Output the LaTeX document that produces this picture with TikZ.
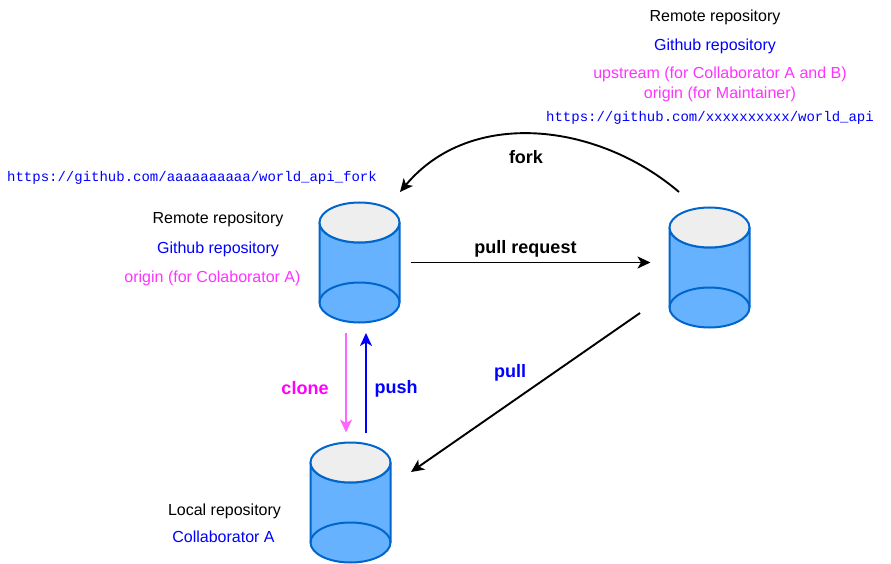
\documentclass[tikz,border=0pt]{standalone}
\usepackage{fontspec}
\setmainfont{Liberation Sans}
\setmonofont{Liberation Mono}
\usetikzlibrary{arrows.meta}
\definecolor{cylfill}{HTML}{66B2FF}
\definecolor{cylline}{HTML}{0066CC}
\definecolor{cyltop}{HTML}{EEEEEE}
\definecolor{softpink}{HTML}{FF33FF}
\definecolor{clonepink}{HTML}{FF66FF}
\definecolor{clonetext}{HTML}{FF00FF}
\tikzset{
  txt/.style={inner sep=0pt,font=\fontsize{16}{18}\selectfont,anchor=center},
  urltxt/.style={inner sep=0pt,font=\fontsize{14}{16}\selectfont\ttfamily,text=blue,anchor=center},
  boldtxt/.style={inner sep=0pt,font=\fontsize{18}{20}\selectfont\bfseries,anchor=center},
  conn/.style={line width=1.9pt,-{Stealth[length=13pt,width=12pt,inset=3.5pt]}},
  cylbody/.style={draw=cylline,fill=cylfill,line width=2pt},
  cylcap/.style={draw=cylline,fill=cyltop,line width=2pt},
  cylanchor/.style={minimum width=80pt,minimum height=120pt,inner sep=0pt,outer sep=0pt}
}
\newcommand{\repocyl}[3]{%
  \path[cylbody] (#2-40,#3-40) arc[start angle=180,end angle=360,x radius=40,y radius=-20]
    -- (#2+40,#3+40) arc[start angle=0,end angle=-180,x radius=40,y radius=-20] -- cycle;
  \path[cylbody,fill=none] (#2-40,#3+40) arc[start angle=180,end angle=0,x radius=40,y radius=-20];
  \path[cylcap] (#2,#3-40) ellipse[x radius=40,y radius=20];
  \node[cylanchor] (#1) at (#2,#3) {};
}
\begin{document}
\begin{tikzpicture}[x=1pt,y=-1pt]
\useasboundingbox (0,0) rectangle (891,564);
\repocyl{fork}{359.5}{262.5}
\repocyl{upstream}{709.5}{267.5}
\repocyl{local}{350.5}{502.5}

\coordinate (forkS) at (679,192);
\coordinate (forkE) at (400,192);
\coordinate (prS) at (410.5,262.5);
\coordinate (prE) at (650.5,262.5);
\coordinate (pullS) at (640,313);
\coordinate (pullE) at (411,472);
\coordinate (cloneS) at (346,333);
\coordinate (cloneE) at (346,432.5);
\coordinate (pushS) at (366,432.5);
\coordinate (pushE) at (366,333);

\draw[conn] (forkS) .. controls (597,122) and (470,108) .. (forkE);
\draw[conn] (prS) -- (prE);
\draw[conn] (pullS) -- (pullE);
\draw[conn,draw=clonepink,fill=clonepink] (cloneS) -- (cloneE);
\draw[conn,draw=blue,fill=blue] (pushS) -- (pushE);

\node[txt] (t1) at (715,17) {Remote repository};
\node[txt,text=blue] (t2) at (715,46) {Github repository};
\node[txt,text=softpink] (t3) at (720,74) {upstream (for Collaborator A and B)};
\node[txt,text=softpink] (t4) at (720,94) {origin (for Maintainer)};
\node[urltxt] (t5) at (710,118) {https://github.com/xxxxxxxxxx/world\_api};
\node[urltxt] (t6) at (192,178) {https://github.com/aaaaaaaaaa/world\_api\_fork};
\node[txt] (t7) at (218,219) {Remote repository};
\node[txt,text=blue] (t8) at (218,249) {Github repository};
\node[txt,text=softpink] (t9) at (212.5,278) {origin (for Colaborator A)};
\node[txt] (t10) at (224.5,511) {Local repository};
\node[txt,text=blue] (t11) at (223.5,537) {Collaborator A};
\node[boldtxt] (l1) at (526,157.5) {fork};
\node[boldtxt] (l2) at (525.5,248.5) {pull request};
\node[boldtxt,text=blue] (l3) at (510,372.5) {pull};
\node[boldtxt,text=blue] (l4) at (396,388.5) {push};
\node[boldtxt,text=clonetext] (l5) at (305,388.5) {clone};
\end{tikzpicture}
\end{document}
